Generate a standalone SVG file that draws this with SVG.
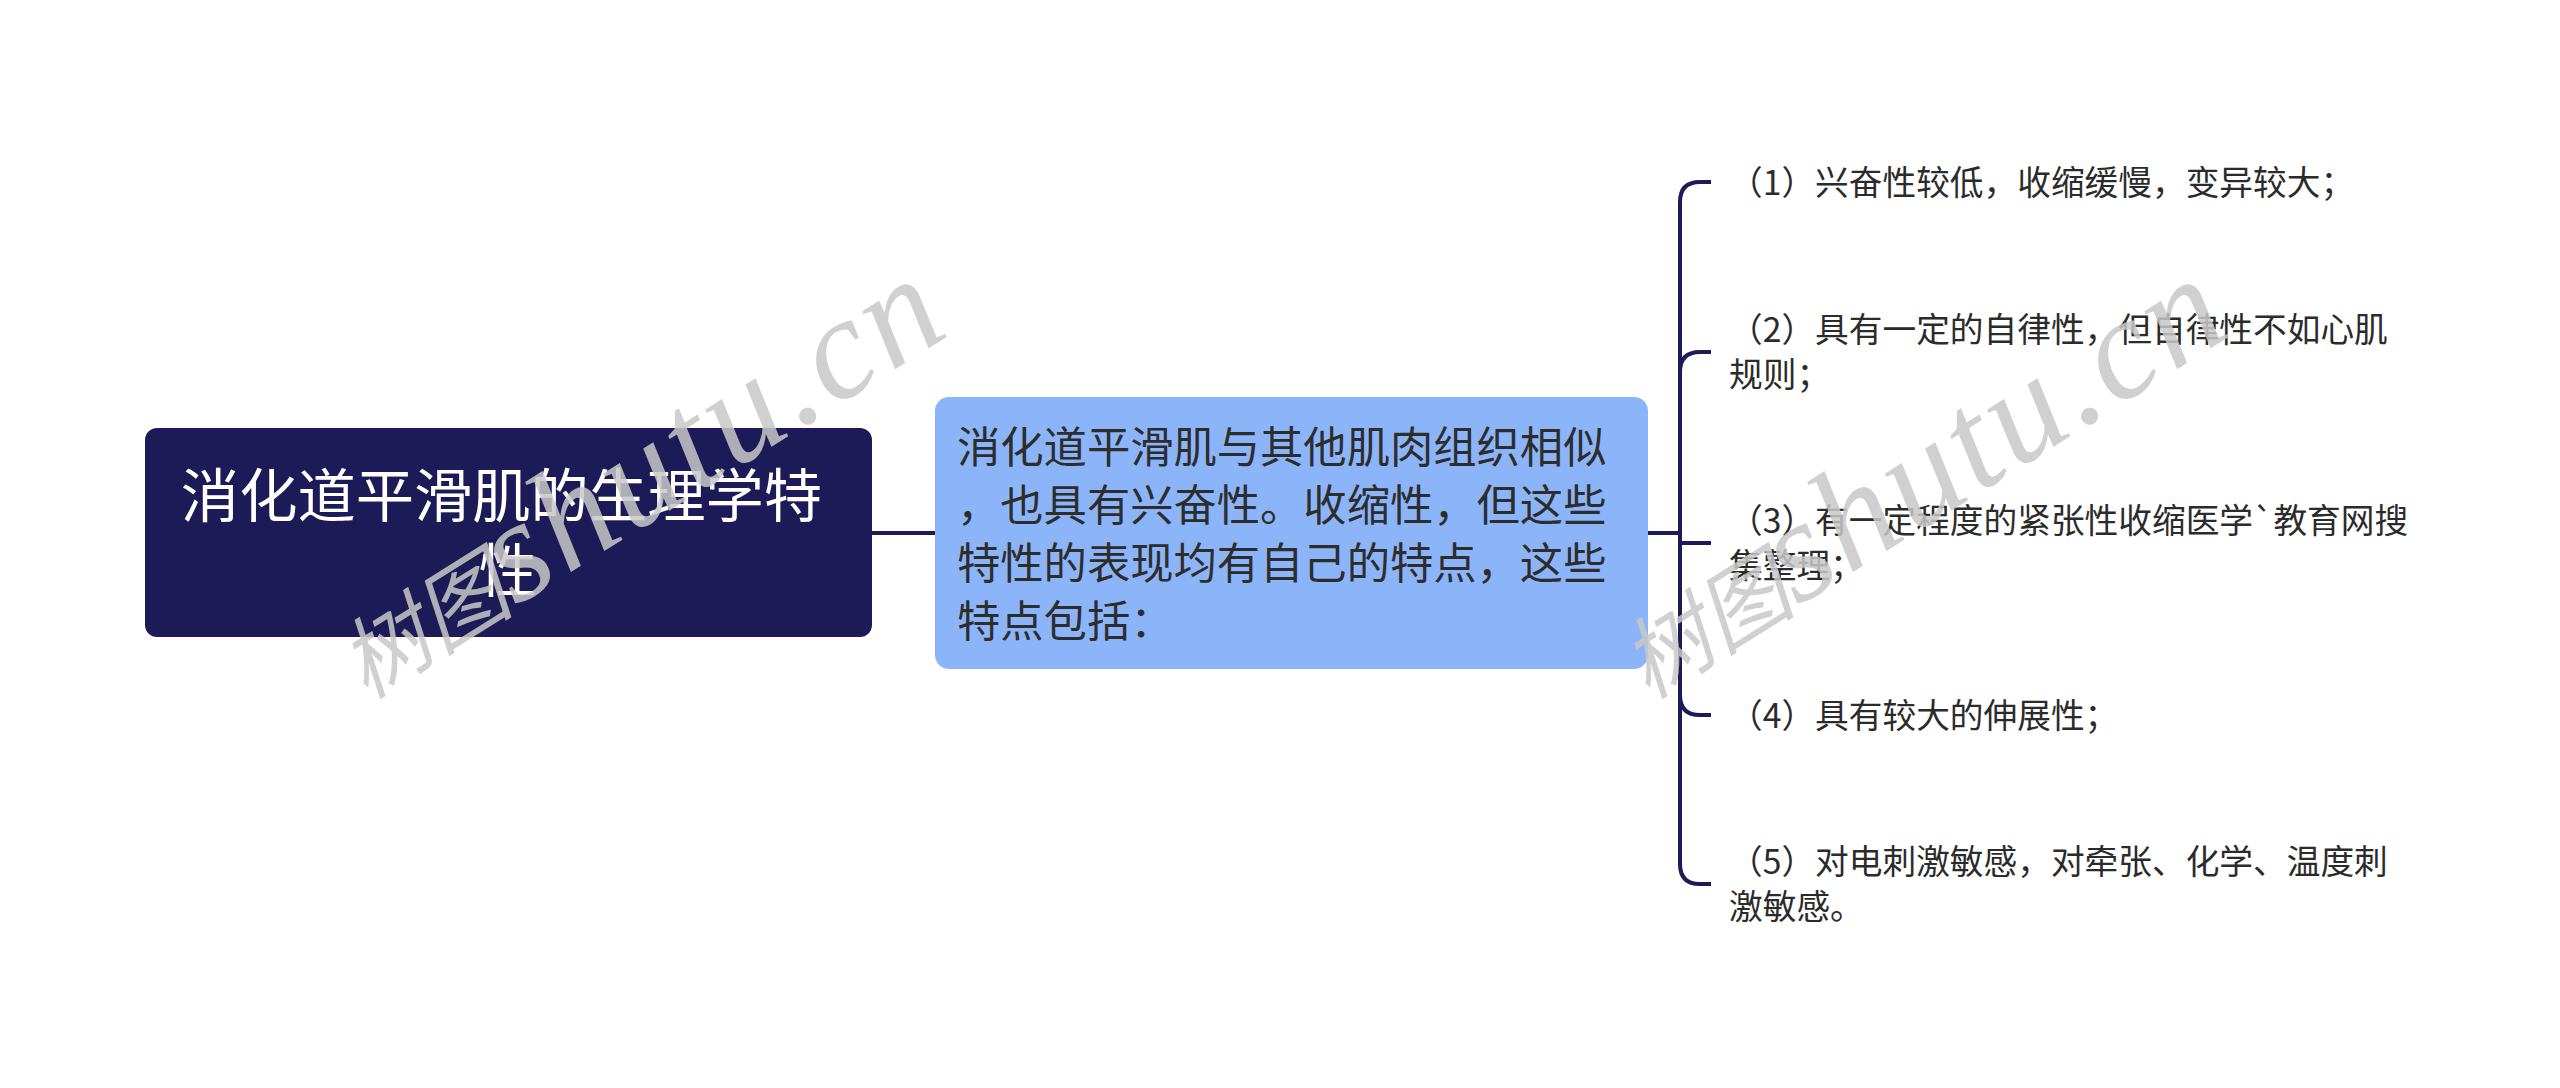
<svg xmlns="http://www.w3.org/2000/svg" width="2560" height="1088" viewBox="0 0 2560 1088">
  <style>
    .conn { fill: none; stroke: #1c1b57; stroke-width: 4; stroke-linejoin: round; stroke-linecap: butt; }
    .cjk { font-family: "Noto Sans CJK SC", "Noto Sans", sans-serif; }
    .root-text { fill: #ffffff; font-size: 58.3px; }
    .mid-text { fill: #2d2d2d; font-size: 43.3px; }
    .leaf-text { fill: #2b2b2b; font-size: 33.7px; }
    .wm { fill: #c8c8c8; fill-opacity: 0.85; }
    .wm-cjk { font-size: 88px; font-family: "Noto Sans CJK SC", sans-serif; font-style: italic; }
    .wm-lat { font-size: 145px; letter-spacing: 4px; font-family: "Times New Roman", "Liberation Serif", serif; font-style: italic; font-weight: normal; }
  </style>
  <rect x="0" y="0" width="2560" height="1088" fill="#ffffff"/>

  <g id="connectors">
    <path class="conn" d="M872 533 H936"/>
    <path class="conn" d="M1648 533 H1680 V202 Q1680 182 1700 182 H1711"/>
    <path class="conn" d="M1648 533 H1680 V372 Q1680 352 1700 352 H1711"/>
    <path class="conn" d="M1648 533 H1680 V543 H1711"/>
    <path class="conn" d="M1648 533 H1680 V695 Q1680 715 1700 715 H1711"/>
    <path class="conn" d="M1648 533 H1680 V864 Q1680 884 1700 884 H1711"/>
  </g>

  <g id="root">
    <rect x="145" y="428" width="727" height="209" rx="12" ry="12" fill="#1c1b57"/>
    <text class="cjk root-text" text-anchor="middle">
      <tspan x="508" y="517">消化道平滑肌的生理学特</tspan>
      <tspan x="508" y="592">性</tspan>
    </text>
  </g>

  <g id="middle">
    <rect x="935" y="397" width="713" height="272" rx="14" ry="14" fill="#8cb5f9"/>
    <text class="cjk mid-text">
      <tspan x="957" y="463">消化道平滑肌与其他肌肉组织相似</tspan>
      <tspan x="957" y="521">，也具有兴奋性。收缩性，但这些</tspan>
      <tspan x="957" y="579">特性的表现均有自己的特点，这些</tspan>
      <tspan x="957" y="637">特点包括：</tspan>
    </text>
  </g>

  <g id="item1">
    <text class="cjk leaf-text"><tspan x="1729" y="195">（1）兴奋性较低，收缩缓慢，变异较大；</tspan></text>
  </g>
  <g id="item2">
    <text class="cjk leaf-text">
      <tspan x="1729" y="342">（2）具有一定的自律性，但自律性不如心肌</tspan>
      <tspan x="1729" y="387">规则；</tspan>
    </text>
  </g>
  <g id="item3">
    <text class="cjk leaf-text">
      <tspan x="1729" y="533">（3）有一定程度的紧张性收缩医学`教育网搜</tspan>
      <tspan x="1729" y="578">集整理；</tspan>
    </text>
  </g>
  <g id="item4">
    <text class="cjk leaf-text"><tspan x="1729" y="728">（4）具有较大的伸展性；</tspan></text>
  </g>
  <g id="item5">
    <text class="cjk leaf-text">
      <tspan x="1729" y="874">（5）对电刺激敏感，对牵张、化学、温度刺</tspan>
      <tspan x="1729" y="919">激敏感。</tspan>
    </text>
  </g>

  <g id="watermark">
    <text class="wm" x="0" y="0" transform="translate(366 700) rotate(-32)"><tspan class="wm-cjk">树图</tspan><tspan class="wm-lat">shutu.cn</tspan></text>
    <text class="wm" x="0" y="0" transform="translate(1648 700) rotate(-32)"><tspan class="wm-cjk">树图</tspan><tspan class="wm-lat">shutu.cn</tspan></text>
  </g>
</svg>
